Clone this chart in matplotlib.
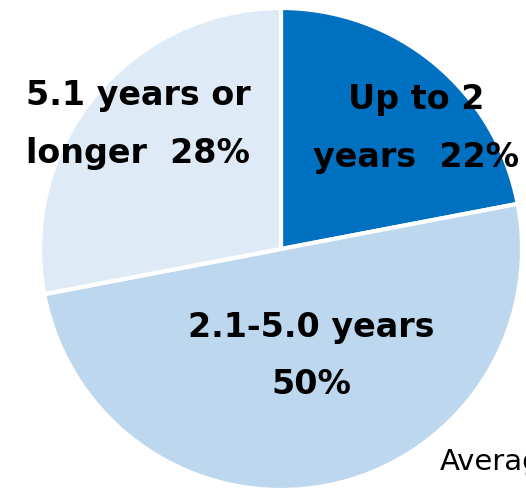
import matplotlib
matplotlib.use("Agg")
import matplotlib.pyplot as plt

categories = ["Up to 2 years", "2.1-5.0 years", "5.1 years or longer"]
values = [22, 50, 28]
colors = ["#0070C0", "#BDD7EE", "#DEEBF7"]
label_lines = [["Up to 2", "years  22%"], ["2.1-5.0 years", "50%"], ["5.1 years or", "longer  28%"]]

W, H = 526, 491
fig = plt.figure(figsize=(W / 100, H / 100), dpi=100)
cx, cy, r = 281, 249, 241
ax = fig.add_axes([(cx - r) / W, (H - cy - r) / H, 2 * r / W, 2 * r / H])
ax.pie(values, colors=colors, startangle=90, counterclock=False,
       wedgeprops=dict(edgecolor="white", linewidth=3))
ax.set_xlim(-1, 1)
ax.set_ylim(-1, 1)
ax.set_aspect("auto")
ax.axis("off")

def px(x, y):
    return (x - cx) / r, (cy - y) / r

label_pos = [(416, 100, 158), (311, 328, 385), (138, 95, 153)]
for lines, (x, y1, y2) in zip(label_lines, label_pos):
    for line, y in zip(lines, (y1, y2)):
        ax.text(*px(x, y), line, ha="center", va="center", fontsize=24,
                fontweight="bold", family="DejaVu Sans", color="black")

fig.text(440 / W, 1 - 462 / H, "Average", ha="left", va="center", fontsize=21,
         family="DejaVu Sans", color="black")

fig.savefig("out.png", dpi=100)
